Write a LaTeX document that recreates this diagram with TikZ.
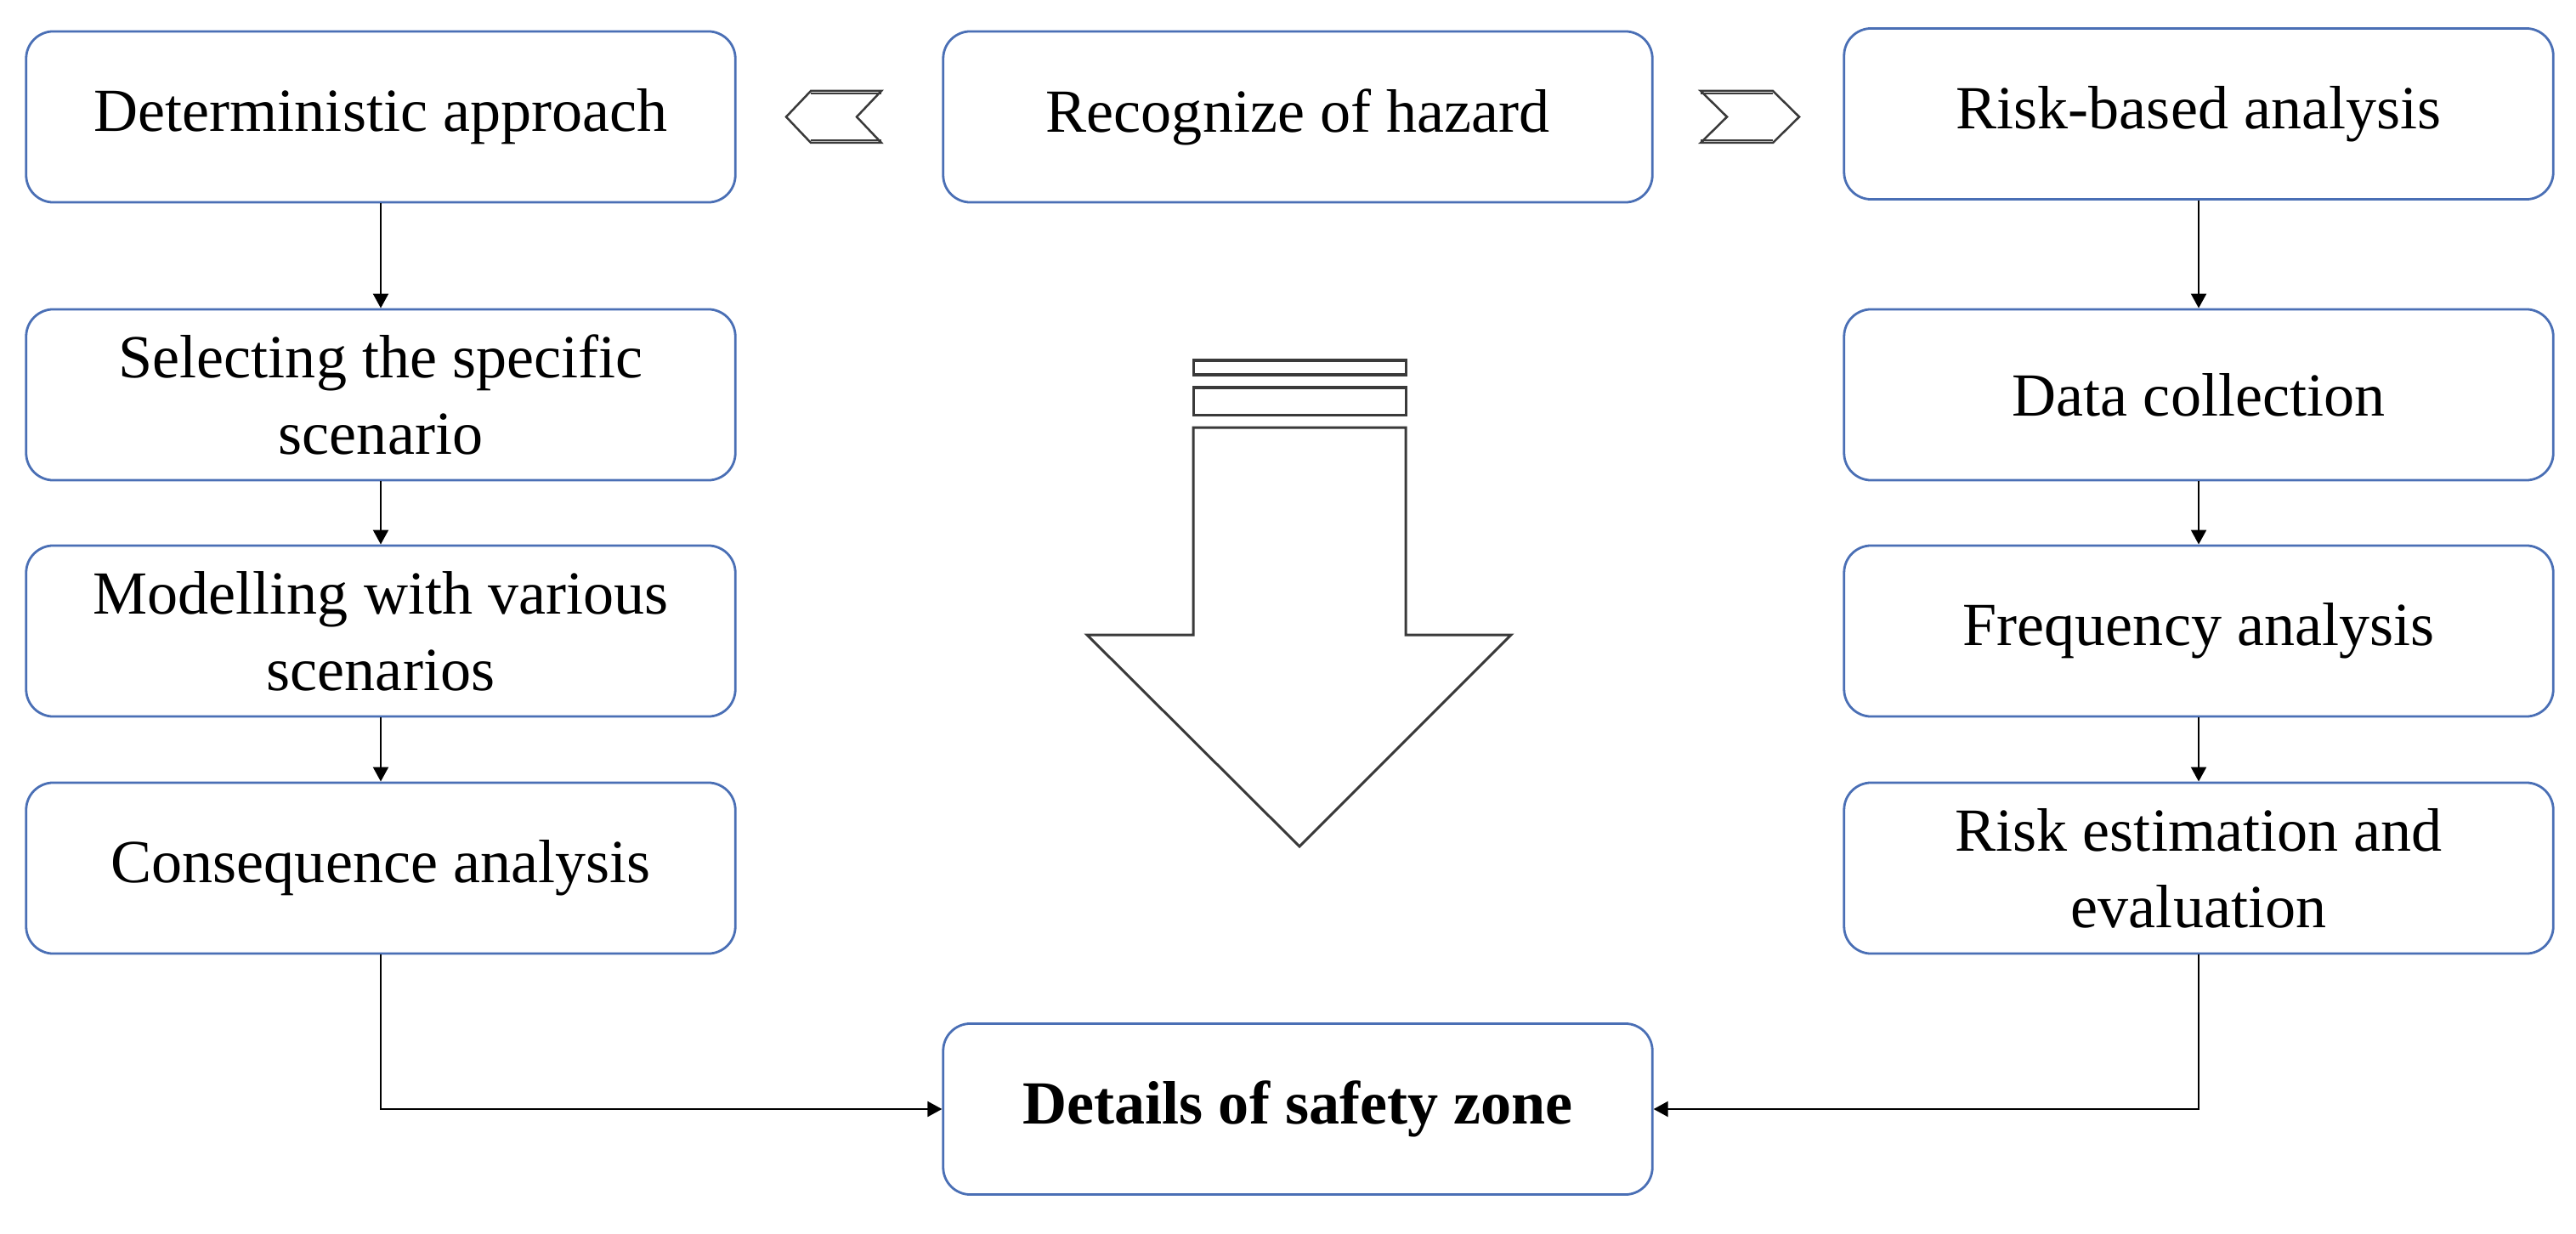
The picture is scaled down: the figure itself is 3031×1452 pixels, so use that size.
\documentclass[tikz,border=0pt]{standalone}
\usepackage{fontspec}
\setmainfont{Liberation Serif}
\usetikzlibrary{arrows.meta}
\definecolor{boxblue}{HTML}{4A6FB5}
\definecolor{shapegray}{HTML}{3A3A3A}
\tikzset{
  stepbox/.style={draw=boxblue, line width=0.028cm, rounded corners=0.32cm,
    minimum width=8.34cm, minimum height=2.01cm, align=center, inner sep=0pt,
    font=\fontsize{20.5}{25.5}\selectfont},
  flow/.style={draw=black, line width=0.022cm, -{Triangle[length=0.17cm,width=0.18cm]}},
  chev/.style={draw=shapegray, line width=0.025cm, fill=white},
  bigarrow/.style={draw=shapegray, line width=0.03cm, fill=white}
}
\begin{document}
\begin{tikzpicture}[x=0.01cm,y=-0.01cm]
\useasboundingbox (0,0) rectangle (3031,1452);
% boxes
\node[stepbox] (det)  at (448,137.5)  {Deterministic approach};
\node[stepbox] (rec)  at (1527,137.5) {Recognize of hazard};
\node[stepbox] (risk) at (2587,134)   {Risk-based analysis};
\node[stepbox] (sel)  at (448,464.5)  {Selecting the specific\\scenario};
\node[stepbox] (data) at (2587,464.5) {Data collection};
\node[stepbox] (mod)  at (448,742.5)  {Modelling with various\\scenarios};
\node[stepbox] (freq) at (2587,742.5) {Frequency analysis};
\node[stepbox] (cons) at (448,1021.5) {Consequence analysis};
\node[stepbox] (est)  at (2587,1021.5) {Risk estimation and\\evaluation};
\node[stepbox, font=\fontsize{20.5}{25.5}\selectfont\bfseries] (det2) at (1527,1305) {Details of safety zone};
% connectors
\draw[flow] (det) -- (sel);
\draw[flow] (sel) -- (mod);
\draw[flow] (mod) -- (cons);
\draw[flow] (risk) -- (data);
\draw[flow] (data) -- (freq);
\draw[flow] (freq) -- (est);
\draw[flow] (cons.south) |- (det2.west);
\draw[flow] (est.south) |- (det2.east);
% chevrons
\draw[chev] (1037,107) -- (954,107) -- (925,137.5) -- (954,168) -- (1037,168) -- (1008,137.5) -- cycle;
\draw[chev] (2001,107) -- (2086,107) -- (2117,137.5) -- (2086,168) -- (2001,168) -- (2032,137.5) -- cycle;
\draw[shapegray, line width=0.02cm] (954,110) -- (1037,110) (954,165) -- (1037,165);
\draw[shapegray, line width=0.02cm] (2001,110) -- (2086,110) (2001,165) -- (2086,165);
% big arrow
\draw[bigarrow] (1404,424) rectangle (1654,441);
\draw[bigarrow] (1404,456) rectangle (1654,488);
\draw[bigarrow] (1404,503) -- (1654,503) -- (1654,747) -- (1778,747) -- (1529,996) -- (1279,747) -- (1404,747) -- cycle;
\end{tikzpicture}
\end{document}
